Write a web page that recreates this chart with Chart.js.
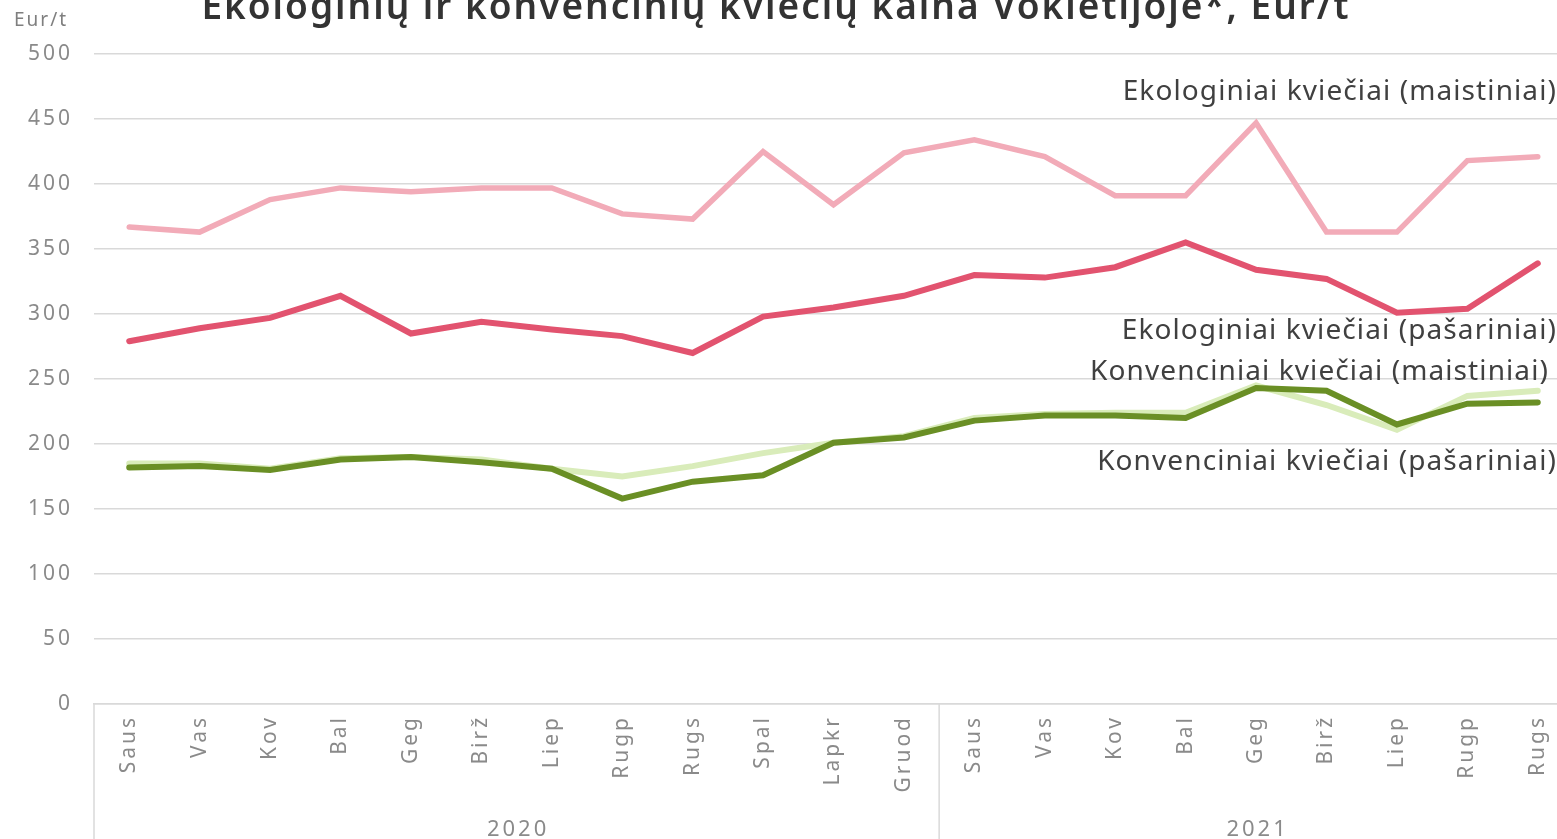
<!DOCTYPE html>
<html>
<head>
<meta charset="utf-8">
<script src="https://cdn.jsdelivr.net/npm/chart.js"></script>
<style>
  html, body { margin: 0; padding: 0; background: #fff; overflow: hidden; }
  #wrap { width: 1573px; height: 839px; }
</style>
</head>
<body>
<div id="wrap"><canvas id="chart"></canvas></div>
<script>
const months = ["Saus", "Vas", "Kov", "Bal", "Geg", "Birž", "Liep", "Rugp", "Rugs", "Spal", "Lapkr", "Gruod",
  "Saus", "Vas", "Kov", "Bal", "Geg", "Birž", "Liep", "Rugp", "Rugs"];
const years = ["2020", "2021"];
const monthsPerYear = [12, 9];

const ekoMaist = [367, 363, 388, 397, 394, 397, 397, 377, 373, 425, 384, 424,
  434, 421, 391, 391, 447, 363, 363, 418, 421];
const ekoPasar = [279, 289, 297, 314, 285, 294, 288, 283, 270, 298, 305, 314,
  330, 328, 336, 355, 334, 327, 301, 304, 339];
const konvMaist = [185, 185, 181, 189, 190, 188, 181, 175, 183, 193, 201, 206,
  220, 223, 224, 224, 245, 230, 211, 237, 241];
const konvPasar = [182, 183, 180, 188, 190, 186, 181, 158, 171, 176, 201, 205,
  218, 222, 222, 220, 243, 241, 215, 231, 232];

const seriesNames = ["Ekologiniai kviečiai (maistiniai)", "Ekologiniai kviečiai (pašariniai)",
  "Konvenciniai kviečiai (maistiniai)", "Konvenciniai kviečiai (pašariniai)"];
// value on the y axis where each series name is written
const nameAt = [471, 287, 255, 186];
const nameRightInset = [0, 0, 8, 0];

const title = "Ekologinių ir konvencinių kviečių kaina Vokietijoje*, Eur/t";
const FONT = "'Noto Sans', sans-serif";
const GREY = "#8a8a8a";
const VIEW_RIGHT = 1557; // the original is cut off at the right edge of the plot

const annotations = {
  id: "annotations",
  beforeDraw(chart) {
    // the original font is wider, spread the tick labels a bit
    chart.ctx.letterSpacing = "3px";
  },
  afterDraw(chart) {
    const { ctx, chartArea, scales } = chart;
    const x = scales.x, y = scales.y;
    ctx.save();

    // title, partly cut by the top edge like the original
    ctx.fillStyle = "#333";
    ctx.letterSpacing = "2px";
    ctx.font = "600 37px " + FONT;
    ctx.textAlign = "center";
    ctx.textBaseline = "alphabetic";
    ctx.fillText(title, 776, 19);

    ctx.fillStyle = "#7f7f7f";
    ctx.letterSpacing = "2px";
    ctx.font = "19px " + FONT;
    ctx.textAlign = "left";
    ctx.textBaseline = "middle";
    ctx.fillText("Eur/t", 14, 21);

    // series names next to the lines
    ctx.fillStyle = "#404040";
    ctx.letterSpacing = "1.1px";
    ctx.font = "28px " + FONT;
    ctx.textAlign = "right";
    seriesNames.forEach((n, i) => {
      ctx.fillText(n, VIEW_RIGHT - nameRightInset[i], y.getPixelForValue(nameAt[i]));
    });

    // year groups under the month labels
    ctx.strokeStyle = "#d9d9d9";
    ctx.lineWidth = 1.5;
    ctx.fillStyle = GREY;
    ctx.letterSpacing = "3px";
    ctx.font = "22px " + FONT;
    ctx.textAlign = "center";
    ctx.textBaseline = "alphabetic";
    let start = 0;
    let left = chartArea.left;
    years.forEach((yr, i) => {
      const end = start + monthsPerYear[i] - 1;
      const right = end < months.length - 1
        ? (x.getPixelForValue(end) + x.getPixelForValue(end + 1)) / 2
        : chartArea.right;
      ctx.beginPath();
      ctx.moveTo(left, chartArea.bottom);
      ctx.lineTo(left, chart.height);
      ctx.stroke();
      ctx.fillText(yr, (left + right) / 2 + 1.5, 836);
      left = right;
      start = end + 1;
    });
    ctx.restore();
  }
};

new Chart(document.getElementById("chart"), {
  type: "line",
  data: {
    labels: months,
    datasets: [
      { label: seriesNames[0], data: ekoMaist, borderColor: "#f2abb8", borderWidth: 5.5, order: 2 },
      { label: seriesNames[1], data: ekoPasar, borderColor: "#e2536f", borderWidth: 6, order: 1 },
      { label: seriesNames[2], data: konvMaist, borderColor: "#d9ecba", borderWidth: 6, order: 4 },
      { label: seriesNames[3], data: konvPasar, borderColor: "#6a8f25", borderWidth: 6, order: 3 }
    ].map(d => Object.assign(d, { pointRadius: 0, tension: 0, fill: false, borderCapStyle: "round", borderJoinStyle: "miter" }))
  },
  options: {
    responsive: true,
    maintainAspectRatio: false,
    animation: false,
    layout: { padding: { top: 54, left: 0, right: 0, bottom: 0 } },
    plugins: {
      legend: { display: false },
      title: { display: false },
      tooltip: { enabled: false }
    },
    scales: {
      y: {
        min: 0,
        max: 500,
        afterFit(scale) { scale.width = 94; },
        ticks: { stepSize: 50, color: GREY, font: { family: FONT, size: 21 }, padding: 21 },
        grid: { color: "#d9d9d9", lineWidth: 1.5, drawTicks: false },
        border: { display: false }
      },
      x: {
        offset: true,
        afterFit(scale) { scale.height = 135; scale.paddingLeft = 0; scale.paddingRight = 0; },
        ticks: { color: GREY, font: { family: FONT, size: 21 }, minRotation: 90, maxRotation: 90, autoSkip: false, padding: 11 },
        grid: { display: false, drawTicks: false, offset: true },
        border: { display: true, color: "#d9d9d9", width: 1.5 }
      }
    }
  },
  plugins: [annotations]
});
</script>
</body>
</html>
